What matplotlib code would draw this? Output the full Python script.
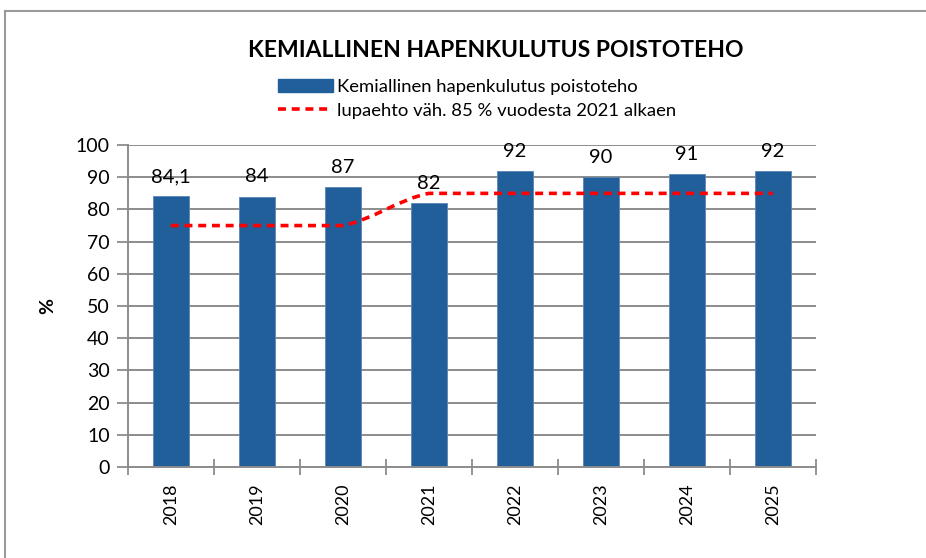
import matplotlib.pyplot as plt
from matplotlib.path import Path
from matplotlib.patches import PathPatch
from matplotlib.lines import Line2D
import numpy as np

# ======= DATA ==========
years = ["2018", "2019", "2020", "2021", "2022", "2023", "2024", "2025"]
poistoteho = [84.1, 84, 87, 82, 92, 90, 91, 92]
labels = ["84,1", "84", "87", "82", "92", "90", "91", "92"]
lupaehto = [75, 75, 75, 85, 85, 85, 85, 85]

title = "KEMIALLINEN HAPENKULUTUS POISTOTEHO"
bar_name = "Kemiallinen hapenkulutus poistoteho"
line_name = "lupaehto väh. 85 % vuodesta 2021 alkaen"
ylabel = "%"
# =======================

plt.rcParams["font.family"] = ["Lato", "DejaVu Sans"]
bar_color = "#215F9A"
grid_color = "#8C8C8C"

fig = plt.figure(figsize=(9.26, 5.58), dpi=100)
ax = fig.add_axes([0.138, 0.163, 0.743, 0.577])

x = np.arange(len(years))
ax.bar(x, poistoteho, width=0.42, color=bar_color, edgecolor="#5B86B5",
       linewidth=0.6, zorder=2, label=bar_name)

for xi, v, t in zip(x, poistoteho, labels):
    ax.annotate(t, (xi, v), xytext=(0, 8), textcoords="offset points",
                ha="center", va="bottom", fontsize=14.5, color="black", zorder=4)

# smoothed line (Catmull-Rom Bezier, control points kept inside each segment)
pts = np.column_stack([x, lupaehto]).astype(float)
n = len(pts)
verts = [tuple(pts[0])]
codes = [Path.MOVETO]
for i in range(n - 1):
    p0 = pts[max(i - 1, 0)]
    p1 = pts[i]
    p2 = pts[i + 1]
    p3 = pts[min(i + 2, n - 1)]
    lo, hi = min(p1[1], p2[1]), max(p1[1], p2[1])
    c1 = p1 + (p2 - p0) / 6.0
    c2 = p2 - (p3 - p1) / 6.0
    c1[1] = np.clip(c1[1], lo, hi)
    c2[1] = np.clip(c2[1], lo, hi)
    verts += [tuple(c1), tuple(c2), tuple(p2)]
    codes += [Path.CURVE4] * 3
path = Path(verts, codes)
ax.add_patch(PathPatch(path, facecolor="none", edgecolor="#FF0000",
                       linewidth=2.6, linestyle=(0, (2.2, 1.6)), zorder=3,
                       capstyle="butt"))

ax.set_xlim(-0.5, len(years) - 0.5)
ax.set_ylim(0, 100)
ax.set_yticks(range(0, 101, 10))
ax.set_xticks(x)
ax.set_xticklabels(years, rotation=90, fontsize=13)
ax.tick_params(axis="x", length=0, pad=12)
ax.set_xticks(np.arange(-0.5, len(years), 1.0), minor=True)
ax.tick_params(axis="x", which="minor", direction="inout", length=12,
               width=1.3, color=grid_color)
ax.tick_params(axis="y", labelsize=14, direction="out", length=8,
               width=1.3, color=grid_color, pad=5)

ax.grid(axis="y", color=grid_color, linewidth=1.4, zorder=0)
ax.set_axisbelow(True)
for side in ["top", "right"]:
    ax.spines[side].set_visible(False)
for side in ["left", "bottom"]:
    ax.spines[side].set_color(grid_color)
    ax.spines[side].set_linewidth(1.4)

ax.set_ylabel(ylabel, fontsize=14, fontweight="bold", labelpad=14)

fig.text(0.535, 0.91, title, ha="center", va="center", fontsize=16.5,
         fontweight="bold")

handles = [plt.Rectangle((0, 0), 1, 1, color=bar_color),
           Line2D([0], [0], color="#FF0000", linewidth=2.6,
                  linestyle=(0, (2.2, 1.6)))]
fig.legend(handles, [bar_name, line_name], loc="upper left",
           bbox_to_anchor=(0.29, 0.875), frameon=False, fontsize=13.3,
           handlelength=3.0, handletextpad=0.2, labelspacing=0.42,
           borderpad=0)

# chart frame lines (top and left)
fig.add_artist(Line2D([0.005, 1.0], [0.980, 0.980], color="#9A9A9A",
                      linewidth=1.5, transform=fig.transFigure))
fig.add_artist(Line2D([0.005, 0.005], [0.0, 0.980], color="#9A9A9A",
                      linewidth=1.5, transform=fig.transFigure))

plt.savefig("out.png", dpi=100)
plt.close()
